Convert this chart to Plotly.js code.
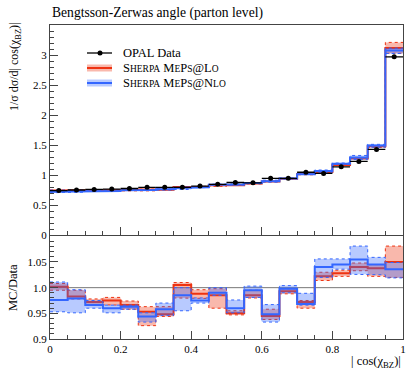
<!DOCTYPE html>
<html>
<head>
<meta charset="utf-8">
<script src="https://cdn.plot.ly/plotly-3.0.1.min.js"></script>
<style>
  html, body { margin: 0; padding: 0; background: #fff; }
  #chart { width: 415px; height: 375px; }
</style>
</head>
<body>
<div id="chart"></div>
<script>
// bins of |cos(chi_BZ)|
const binEdges = [0, 0.05, 0.1, 0.15, 0.2, 0.25, 0.3, 0.35, 0.4, 0.45, 0.5,
                  0.55, 0.6, 0.65, 0.7, 0.75, 0.8, 0.85, 0.9, 0.95, 1];
const binCentres = [0.025, 0.075, 0.125, 0.175, 0.225, 0.275, 0.325, 0.375, 0.425, 0.475,
                    0.525, 0.575, 0.625, 0.675, 0.725, 0.775, 0.825, 0.875, 0.925, 0.975];

// OPAL data
const dataVals = [0.745, 0.755, 0.765, 0.77, 0.78, 0.80, 0.80, 0.80, 0.82, 0.85,
                  0.88, 0.875, 0.95, 0.95, 1.05, 1.03, 1.14, 1.23, 1.43, 2.97];
const dataErr  = [0.01, 0.01, 0.01, 0.01, 0.01, 0.01, 0.01, 0.01, 0.01, 0.01,
                  0.01, 0.01, 0.01, 0.01, 0.012, 0.012, 0.012, 0.014, 0.016, 0.03];

// MC / Data ratios
const loRatio   = [1.002, 0.983, 0.972, 0.975, 0.966, 0.953, 0.948, 1.005, 0.988, 0.985,
                   0.950, 0.985, 0.945, 0.993, 0.972, 1.022, 1.028, 1.040, 1.038, 1.050];
const loLow     = [0.995, 0.978, 0.967, 0.966, 0.958, 0.926, 0.944, 0.980, 0.979, 0.960,
                   0.947, 0.980, 0.938, 0.988, 0.960, 1.014, 1.022, 1.033, 1.022, 1.020];
const loHigh    = [1.008, 0.995, 0.978, 0.981, 0.974, 0.963, 0.963, 1.010, 0.996, 0.998,
                   0.955, 0.995, 0.958, 0.998, 0.975, 1.030, 1.034, 1.048, 1.045, 1.081];
const nloRatio  = [0.976, 0.979, 0.966, 0.960, 0.963, 0.944, 0.958, 0.985, 0.975, 0.990,
                   0.960, 0.995, 0.948, 0.998, 0.968, 1.040, 1.045, 1.055, 1.045, 1.036];
const nloLow    = [0.953, 0.951, 0.960, 0.951, 0.958, 0.933, 0.946, 0.955, 0.970, 0.985,
                   0.951, 0.981, 0.933, 0.990, 0.966, 1.020, 1.036, 1.026, 1.025, 1.019];
const nloHigh   = [1.011, 0.996, 0.975, 0.966, 0.966, 0.951, 0.970, 1.000, 0.980, 1.000,
                   0.976, 1.003, 0.967, 1.004, 0.989, 1.056, 1.056, 1.081, 1.059, 1.049];

const RED = '#ee3311', BLUE = '#3366ff';
const RED_BAND = 'rgba(238,51,17,0.35)', BLUE_BAND = 'rgba(51,102,255,0.35)';
const FONT = 'Liberation Serif, Times New Roman, serif';

// histogram step outline
function steps(vals) {
  const xs = [], ys = [];
  vals.forEach((v, i) => { xs.push(binEdges[i], binEdges[i + 1]); ys.push(v, v); });
  return {x: xs, y: ys};
}
function band(lo, hi) {
  const up = steps(hi), dn = steps(lo);
  return {x: up.x.concat(dn.x.slice().reverse()), y: up.y.concat(dn.y.slice().reverse())};
}
const times = (a, b) => a.map((v, i) => v * b[i]);

function mcTraces(ratio, low, high, colour, fillc, main) {
  const c = main ? times(dataVals, ratio) : ratio;
  const l = main ? times(dataVals, low) : low;
  const h = main ? times(dataVals, high) : high;
  const ax = main ? {xaxis: 'x', yaxis: 'y'} : {xaxis: 'x2', yaxis: 'y2'};
  const b = band(l, h), s = steps(c), sl = steps(l), sh = steps(h);
  return [
    Object.assign({x: b.x, y: b.y, type: 'scatter', mode: 'none', fill: 'toself',
      fillcolor: fillc, hoverinfo: 'skip', showlegend: false}, ax),
    Object.assign({x: sl.x, y: sl.y, type: 'scatter', mode: 'lines',
      line: {color: colour, width: 1, dash: 'dot'}, showlegend: false}, ax),
    Object.assign({x: sh.x, y: sh.y, type: 'scatter', mode: 'lines',
      line: {color: colour, width: 1, dash: 'dot'}, showlegend: false}, ax),
    Object.assign({x: s.x, y: s.y, type: 'scatter', mode: 'lines',
      line: {color: colour, width: 2}, showlegend: false}, ax)
  ];
}

const traces = [
  ...mcTraces(loRatio, loLow, loHigh, RED, RED_BAND, true),
  ...mcTraces(nloRatio, nloLow, nloHigh, BLUE, BLUE_BAND, true),
  {
    x: binCentres, y: dataVals, type: 'scatter', mode: 'markers',
    marker: {color: 'black', size: 5},
    error_x: {type: 'constant', value: 0.025, width: 0, thickness: 1.3, color: 'black'},
    error_y: {type: 'data', array: dataErr, width: 0, thickness: 1.3, color: 'black'},
    showlegend: false, xaxis: 'x', yaxis: 'y'
  },
  {
    x: [0, 1], y: [1, 1], type: 'scatter', mode: 'lines',
    line: {color: '#777', width: 1}, showlegend: false, xaxis: 'x2', yaxis: 'y2'
  },
  ...mcTraces(loRatio, loLow, loHigh, RED, RED_BAND, false),
  ...mcTraces(nloRatio, nloLow, nloHigh, BLUE, BLUE_BAND, false)
];

// pixel helpers for the hand-made legend (plot area: x 50..403, y 25..339)
const PX = p => (p - 50) / 353;
const PY = p => (339 - p) / 314;

const sc = t => '<span style="font-size:9.5px">' + t + '</span>';
const legendRows = [
  {label: 'OPAL Data', py: 53},
  {label: 'S' + sc('HERPA') + ' M' + sc('E') + 'P' + sc('S') + '@L' + sc('O'), py: 68, colour: RED, fillc: RED_BAND},
  {label: 'S' + sc('HERPA') + ' M' + sc('E') + 'P' + sc('S') + '@N' + sc('LO'), py: 83, colour: BLUE, fillc: BLUE_BAND}
];

const shapes = [];
const annotations = [];
legendRows.forEach(r => {
  if (r.colour) {
    shapes.push({type: 'rect', xref: 'paper', yref: 'paper', x0: PX(87), x1: PX(112),
      y0: PY(r.py - 3.5), y1: PY(r.py + 3.5), fillcolor: r.fillc, line: {width: 0}});
    shapes.push({type: 'line', xref: 'paper', yref: 'paper', x0: PX(87), x1: PX(112),
      y0: PY(r.py), y1: PY(r.py), line: {color: r.colour, width: 2}});
  } else {
    shapes.push({type: 'line', xref: 'paper', yref: 'paper', x0: PX(87), x1: PX(112),
      y0: PY(r.py), y1: PY(r.py), line: {color: 'black', width: 1.3}});
    shapes.push({type: 'circle', xref: 'paper', yref: 'paper', x0: PX(97.5), x1: PX(102.5),
      y0: PY(r.py + 2.5), y1: PY(r.py - 2.5), fillcolor: 'black', line: {width: 0}});
  }
  annotations.push({xref: 'paper', yref: 'paper', x: PX(121), y: PY(r.py), xanchor: 'left',
    yanchor: 'middle', showarrow: false, text: r.label, font: {family: FONT, size: 12.5, color: 'black'}});
});

annotations.push(
  {xref: 'paper', yref: 'paper', x: PX(15), y: PY(21), xanchor: 'center', yanchor: 'top',
   textangle: -90, showarrow: false, text: '1/σ dσ/d| cos(χ<sub>BZ</sub>)|',
   font: {family: FONT, size: 12, color: 'black'}},
  {xref: 'paper', yref: 'paper', x: PX(13), y: PY(288), xanchor: 'center', yanchor: 'middle',
   textangle: -90, showarrow: false, text: 'MC/Data',
   font: {family: FONT, size: 12.5, color: 'black'}},
  {xref: 'paper', yref: 'paper', x: PX(403), y: PY(362), xanchor: 'right', yanchor: 'middle',
   showarrow: false, text: '| cos(χ<sub>BZ</sub>)|',
   font: {family: FONT, size: 12.5, color: 'black'}}
);

const axisCommon = {
  showgrid: false, zeroline: false, showline: true, mirror: true,
  linecolor: '#444', linewidth: 1, ticks: 'inside', tickcolor: '#444',
  tickfont: {family: FONT, size: 11, color: 'black'}
};

const layout = {
  width: 415, height: 375,
  margin: {l: 50, r: 12, t: 25, b: 36},
  paper_bgcolor: 'white', plot_bgcolor: 'white',
  showlegend: false,
  title: {text: 'Bengtsson-Zerwas angle (parton level)', x: 52 / 415, xanchor: 'left',
          y: 1 - 12 / 375, yanchor: 'middle', font: {family: FONT, size: 13.6, color: 'black'}},
  xaxis: Object.assign({}, axisCommon, {
    domain: [0, 1], range: [0, 1], anchor: 'y', showticklabels: false,
    dtick: 0.2, ticklen: 8, minor: {dtick: 0.05, ticklen: 4, ticks: 'inside', tickcolor: '#444'}
  }),
  yaxis: Object.assign({}, axisCommon, {
    domain: [0.33, 1], range: [0, 3.5], anchor: 'x',
    tickvals: [0, 0.5, 1, 1.5, 2, 2.5, 3], ticktext: ['0', '0.5', '1', '1.5', '2', '2.5', '3'],
    ticklen: 8, minor: {dtick: 0.1, ticklen: 4, ticks: 'inside', tickcolor: '#444'}
  }),
  xaxis2: Object.assign({}, axisCommon, {
    domain: [0, 1], range: [0, 1], anchor: 'y2', matches: 'x',
    tickvals: [0, 0.2, 0.4, 0.6, 0.8, 1], ticktext: ['0', '0.2', '0.4', '0.6', '0.8', '1'],
    ticklen: 8, minor: {dtick: 0.05, ticklen: 4, ticks: 'inside', tickcolor: '#444'}
  }),
  yaxis2: Object.assign({}, axisCommon, {
    domain: [0, 0.327], range: [0.9, 1.1], anchor: 'x2',
    tickvals: [0.9, 0.95, 1.0, 1.05], ticktext: ['0.9', '0.95', '1.0', '1.05'],
    ticklen: 8, minor: {dtick: 0.01, ticklen: 4, ticks: 'inside', tickcolor: '#444'}
  }),
  shapes: shapes,
  annotations: annotations
};

Plotly.newPlot('chart', traces, layout, {staticPlot: true, displayModeBar: false});
</script>
</body>
</html>
